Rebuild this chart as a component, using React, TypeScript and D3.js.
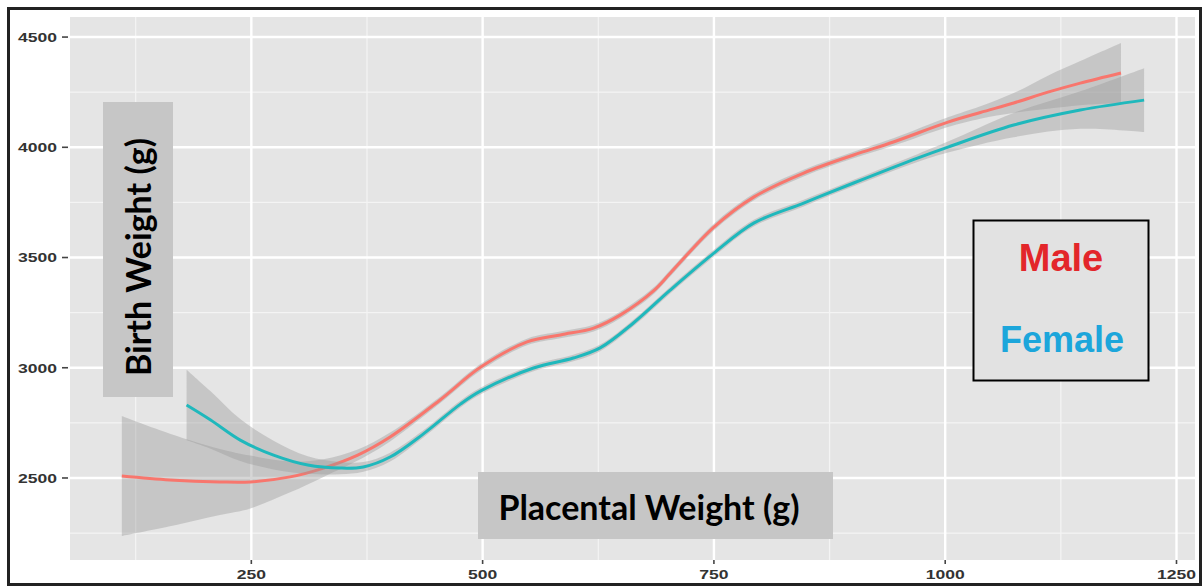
import React from "react";
import * as d3 from "d3";

// ---- data ----
const xTicks = [250, 500, 750, 1000, 1250];
const yTicks = [2500, 3000, 3500, 4000, 4500];
const xMinor = [125, 375, 625, 875, 1125];
const yMinor = [2250, 2750, 3250, 3750, 4250];

const maleX = [110, 162, 216, 249, 292, 328, 365, 400, 454, 498, 548, 584, 620, 649, 685, 703, 750, 793, 847, 901, 944, 1003, 1038, 1074, 1111, 1146, 1190];
const maleY = [2509, 2491, 2482, 2482, 2505, 2545, 2604, 2686, 2854, 3003, 3117, 3149, 3180, 3240, 3350, 3430, 3638, 3774, 3883, 3965, 4024, 4114, 4158, 4201, 4250, 4291, 4337];
const maleSE = [272, 210, 150, 120, 70, 40, 25, 20, 15, 15, 15, 15, 15, 15, 15, 15, 15, 15, 15, 15, 17, 22, 28, 45, 75, 100, 136];

const femaleX = [180, 206, 238, 274, 311, 346, 371, 400, 436, 476, 498, 555, 598, 627, 663, 703, 750, 793, 847, 901, 970, 1003, 1074, 1146, 1215];
const femaleY = [2831, 2763, 2672, 2604, 2559, 2545, 2550, 2595, 2700, 2835, 2895, 2999, 3044, 3090, 3203, 3353, 3520, 3656, 3747, 3838, 3951, 4001, 4101, 4169, 4214];
const femaleSE = [160, 130, 95, 65, 40, 28, 22, 20, 16, 15, 15, 15, 15, 15, 15, 15, 15, 15, 15, 15, 18, 25, 55, 85, 145];

const W = 1204;
const H = 586;
const panel = { left: 70, right: 1195, top: 17, bottom: 560 };

const x = d3.scaleLinear().domain([54, 1270]).range([panel.left, panel.right]);
const y = d3.scaleLinear().domain([2128, 4591]).range([panel.bottom, panel.top]);

type Pt = { x: number; y: number; se: number };
const zip = (xs: number[], ys: number[], ses: number[]): Pt[] =>
  xs.map((v, i) => ({ x: v, y: ys[i], se: ses[i] }));

const male = zip(maleX, maleY, maleSE);
const female = zip(femaleX, femaleY, femaleSE);

const line = d3
  .line<Pt>()
  .x((d) => x(d.x))
  .y((d) => y(d.y))
  .curve(d3.curveCatmullRom.alpha(0.5));

const ribbon = d3
  .area<Pt>()
  .x((d) => x(d.x))
  .y0((d) => y(d.y - d.se))
  .y1((d) => y(d.y + d.se))
  .curve(d3.curveCatmullRom.alpha(0.5));

export default function App() {
  const tickFont = "'Liberation Sans', Arial, sans-serif";
  const titleFont = "Lato, 'Open Sans', sans-serif";
  return (
    <svg
      width={W}
      height={H}
      style={{ position: "absolute", left: 0, top: 0, background: "#fff" }}
    >
      <rect x={0} y={0} width={W} height={H} fill="#fff" />
      {/* panel */}
      <rect
        x={panel.left}
        y={panel.top}
        width={panel.right - panel.left}
        height={panel.bottom - panel.top}
        fill="#e5e5e5"
      />
      {/* minor grid */}
      {xMinor.map((v) => (
        <line key={"xm" + v} x1={x(v)} x2={x(v)} y1={panel.top} y2={panel.bottom} stroke="#f4f4f4" strokeWidth={1.2} />
      ))}
      {yMinor.map((v) => (
        <line key={"ym" + v} x1={panel.left} x2={panel.right} y1={y(v)} y2={y(v)} stroke="#f4f4f4" strokeWidth={1.2} />
      ))}
      {/* major grid */}
      {xTicks.map((v) => (
        <line key={"xg" + v} x1={x(v)} x2={x(v)} y1={panel.top} y2={panel.bottom} stroke="#ffffff" strokeWidth={2.4} />
      ))}
      {yTicks.map((v) => (
        <line key={"yg" + v} x1={panel.left} x2={panel.right} y1={y(v)} y2={y(v)} stroke="#ffffff" strokeWidth={2.4} />
      ))}

      {/* smooths: male ribbon + line, female ribbon + line */}
      <path d={ribbon(male) || ""} fill="#999999" fillOpacity={0.4} />
      <path d={line(male) || ""} fill="none" stroke="#f8766d" strokeWidth={3} />
      <path d={ribbon(female) || ""} fill="#999999" fillOpacity={0.4} />
      <path d={line(female) || ""} fill="none" stroke="#1fb8bc" strokeWidth={3} />

      {/* y axis ticks + labels */}
      {yTicks.map((v) => (
        <g key={"yt" + v}>
          <line x1={62} x2={68} y1={y(v)} y2={y(v)} stroke="#444" strokeWidth={1.6} />
          <text
            transform={`translate(57,${y(v) + 4.8}) scale(1.35,1)`}
            textAnchor="end"
            fontFamily={tickFont}
            fontWeight="bold"
            fontSize={13}
            fill="#333"
          >
            {v}
          </text>
        </g>
      ))}
      {/* x axis ticks + labels */}
      {xTicks.map((v) => (
        <g key={"xt" + v}>
          <line x1={x(v)} x2={x(v)} y1={panel.bottom} y2={panel.bottom + 4} stroke="#444" strokeWidth={1.6} />
          <text
            transform={`translate(${x(v)},${578.5}) scale(1.35,1)`}
            textAnchor="middle"
            fontFamily={tickFont}
            fontWeight="bold"
            fontSize={13}
            fill="#333"
          >
            {v}
          </text>
        </g>
      ))}

      {/* axis title boxes */}
      <rect x={103} y={102} width={70} height={295} fill="#c6c6c6" />
      <text
        transform={`translate(151,${257}) rotate(-90)`}
        textAnchor="middle"
        fontFamily={titleFont}
        fontWeight="bold"
        fontSize={34}
        fill="#000"
      >
        Birth Weight (g)
      </text>
      <rect x={478} y={472} width={355} height={67} fill="#c6c6c6" />
      <text
        x={649}
        y={520}
        textAnchor="middle"
        fontFamily={titleFont}
        fontWeight="bold"
        fontSize={34}
        fill="#000"
      >
        Placental Weight (g)
      </text>

      {/* legend box */}
      <rect x={973.5} y={220.5} width={175} height={160} fill="#e2e2e2" stroke="#000" strokeWidth={2} />
      <text x={1061} y={271} textAnchor="middle" fontFamily={tickFont} fontWeight="bold" fontSize={38} fill="#e3262a">
        Male
      </text>
      <text x={1062} y={352} textAnchor="middle" fontFamily={tickFont} fontWeight="bold" fontSize={36} fill="#1ca6db">
        Female
      </text>

      {/* outer frame */}
      <rect x={8.5} y={8.5} width={1192} height={576} fill="none" stroke="#222" strokeWidth={3} />
    </svg>
  );
}
